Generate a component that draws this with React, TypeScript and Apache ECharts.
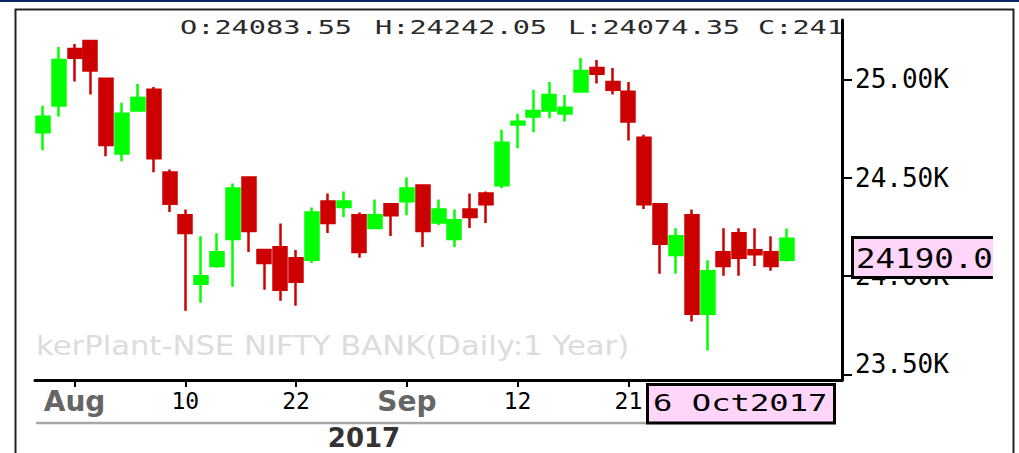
import React, { useEffect, useRef } from 'react';
import * as echarts from 'echarts';

const dates = [
  '2017-07-28', '2017-07-31', '2017-08-01', '2017-08-02', '2017-08-03', '2017-08-04',
  '2017-08-07', '2017-08-08', '2017-08-09', '2017-08-10', '2017-08-11', '2017-08-14',
  '2017-08-16', '2017-08-17', '2017-08-18', '2017-08-21', '2017-08-22', '2017-08-23',
  '2017-08-24', '2017-08-28', '2017-08-29', '2017-08-30', '2017-08-31', '2017-09-01',
  '2017-09-04', '2017-09-05', '2017-09-06', '2017-09-07', '2017-09-08', '2017-09-11',
  '2017-09-12', '2017-09-13', '2017-09-14', '2017-09-15', '2017-09-18', '2017-09-19',
  '2017-09-20', '2017-09-21', '2017-09-22', '2017-09-25', '2017-09-26', '2017-09-27',
  '2017-09-28', '2017-09-29', '2017-10-03', '2017-10-04', '2017-10-05', '2017-10-06',
  '2017-10-09', '2017-10-10', '2017-10-11',
];

const opens = [
  24731, 24867, 25154, 25195, 25003, 24624, 24842, 24947, 24527, 24309,
  23961, 24052, 24189, 24501, 24133, 24147, 24091, 24083, 24380, 24351,
  24309, 24245, 24365, 24381, 24461, 24272, 24189, 24339, 24420, 24462,
  24771, 24812, 24842, 24827, 24938, 25058, 24987, 24937, 24704, 24365,
  24108, 24309, 23809, 24122, 24218, 24132, 24122, 24083.55,
];
const highs = [
  24866, 25165, 25180, 25197, 25005, 24881, 24977, 24962, 24542, 24339,
  24203, 24218, 24471, 24503, 24135, 24268, 24133, 24349, 24420, 24430,
  24324, 24390, 24367, 24501, 24463, 24390, 24339, 24420, 24430, 24744,
  24825, 24947, 24987, 24921, 25109, 25099, 25058, 24987, 24719, 24367,
  24243, 24339, 24081, 24243, 24243, 24243, 24203, 24242.05,
];
const lows = [
  24640, 24812, 24989, 24923, 24609, 24584, 24840, 24528, 24326, 23824,
  23865, 24042, 23946, 24123, 23931, 23875, 23850, 24067, 24219, 24300,
  24093, 24243, 24204, 24310, 24148, 24260, 24148, 24245, 24270, 24447,
  24650, 24731, 24802, 24786, 24936, 24979, 24923, 24690, 24341, 24012,
  24012, 23769, 23622, 24002, 24002, 24052, 24027, 24074.35,
];
const closes = [
  24810, 25099, 25110, 25045, 24667, 24825, 24906, 24599, 24368, 24219,
  24000, 24122, 24446, 24229, 24067, 23931, 23971, 24324, 24270, 24380,
  24123, 24309, 24310, 24446, 24229, 24339, 24284, 24300, 24366, 24678,
  24785, 24840, 24921, 24856, 25043, 25029, 24948, 24786, 24366, 24164,
  24203, 23809, 24025, 24052, 24093, 24111, 24052, 24190,
];

const tickDates = ['2017-08-01', '2017-08-10', '2017-08-22', '2017-09-01', '2017-09-12', '2017-09-21'];
const tickTexts = ['Aug', '10', '22', 'Sep', '12', '21'];
const yTicks = [23500, 24000, 24500, 25000];

const headerFields = ['O:24083.55', 'H:24242.05', 'L:24074.35', 'C:241'];
const headerX = [180, 375, 568, 758];
const lastPrice = '24190.0';
const lastDate = '6 Oct2017';
const yearLabel = '2017';
const watermark = 'kerPlant-NSE NIFTY BANK(Daily:1 Year)';

const MONO = '"DejaVu Sans Mono", monospace';
const SANS = '"DejaVu Sans", sans-serif';
const PINK = '#ffd5fa';

export default function App() {
  const ref = useRef<HTMLDivElement>(null);

  useEffect(() => {
    if (!ref.current) return;
    const chart = echarts.init(ref.current, null, { renderer: 'svg' });

    const candleData = opens.map((o, i) => [o, closes[i], lows[i], highs[i]]);
    const isTick = (_i: number, v: string) => tickDates.indexOf(v) >= 0;

    const graphics: any[] = [
      { type: 'rect', z: 100, shape: { x: 0, y: 0, width: 1019, height: 2 }, style: { fill: '#0a2560' } },
      {
        type: 'rect', z: 100,
        shape: { x: 15.5, y: 9.5, width: 998, height: 470 },
        style: { fill: 'none', stroke: '#222', lineWidth: 2 },
      },
      ...headerFields.map((t, i) => ({
        type: 'text', z: 100, x: headerX[i], y: 27.5, scaleX: 1.43,
        style: {
          text: t, fill: '#2a2a2a', font: `20px ${MONO}`,
          textAlign: 'left', textVerticalAlign: 'middle', align: 'left', verticalAlign: 'middle',
        },
      })),
      {
        type: 'text', z: 1, x: 36, y: 346, scaleX: 1.18,
        style: {
          text: watermark, fill: '#dcdcdc', font: `26px ${SANS}`,
          textAlign: 'left', textVerticalAlign: 'middle', align: 'left', verticalAlign: 'middle',
        },
      },
      {
        type: 'line', z: 100,
        shape: { x1: 36, y1: 423, x2: 647, y2: 423 },
        style: { stroke: '#a8a8a8', lineWidth: 2.5 },
      },
      {
        type: 'text', z: 100, x: 364, y: 438,
        style: {
          text: yearLabel, fill: '#333', font: `bold 26px ${SANS}`,
          textAlign: 'center', textVerticalAlign: 'middle', align: 'center', verticalAlign: 'middle',
        },
      },
      {
        type: 'rect', z: 110,
        shape: { x: 647.5, y: 384.5, width: 187, height: 38.5 },
        style: { fill: PINK, stroke: '#000', lineWidth: 3 },
      },
      {
        type: 'text', z: 111, x: 653, y: 403, scaleX: 1.4,
        style: {
          text: lastDate, fill: '#000', font: `23px ${MONO}`,
          textAlign: 'left', textVerticalAlign: 'middle', align: 'left', verticalAlign: 'middle',
        },
      },
      {
        type: 'rect', z: 110,
        shape: { x: 852, y: 237, width: 141, height: 41 },
        style: { fill: PINK },
      },
      {
        type: 'text', z: 111, x: 856, y: 259.5, scaleX: 1.25,
        style: {
          text: lastPrice, fill: '#000', font: `26px ${MONO}`,
          textAlign: 'left', textVerticalAlign: 'middle', align: 'left', verticalAlign: 'middle',
        },
      },
      {
        type: 'rect', z: 112,
        shape: { x: 993, y: 234, width: 19, height: 47 },
        style: { fill: '#fff' },
      },
      {
        type: 'polyline', z: 113,
        shape: { points: [[993, 237.5], [852.5, 237.5], [852.5, 277.5], [993, 277.5]] },
        style: { stroke: '#000', lineWidth: 3, fill: 'none' },
      },
    ];

    chart.setOption({
      animation: false,
      backgroundColor: '#fff',
      grid: { left: 35, right: 177, top: 20, bottom: 73, containLabel: false, outerBoundsMode: 'none' },
      xAxis: {
        type: 'category',
        data: dates,
        boundaryGap: true,
        axisLine: { show: true, lineStyle: { color: '#000', width: 3 } },
        axisTick: {
          show: true, interval: isTick, alignWithLabel: true, length: 7,
          lineStyle: { color: '#000', width: 2 },
        },
        axisLabel: {
          interval: isTick,
          margin: 9,
          formatter: (v: string) => {
            const k = tickDates.indexOf(v);
            const t = k >= 0 ? tickTexts[k] : '';
            return /^[A-Za-z]/.test(t) ? `{m|${t}}` : `{d|${t}}`;
          },
          rich: {
            m: { fontFamily: SANS, fontWeight: 'bold', fontSize: 28, color: '#666', lineHeight: 24 },
            d: { fontFamily: MONO, fontSize: 23, color: '#000', lineHeight: 24 },
          },
        },
        splitLine: { show: false },
      },
      yAxis: {
        type: 'value',
        position: 'right',
        min: 23472,
        max: 25302,
        scale: true,
        axisLine: { show: true, lineStyle: { color: '#000', width: 3 } },
        axisTick: {
          show: true, length: 10, customValues: yTicks,
          lineStyle: { color: '#000', width: 2 },
        },
        axisLabel: {
          customValues: yTicks,
          margin: 13,
          color: '#000',
          fontFamily: MONO,
          fontSize: 26,
          formatter: (v: number) => {
            const t = (v / 1000).toFixed(2) + 'K';
            return v === yTicks[0] ? `{lo|${t}}` : `{n|${t}}`;
          },
          rich: {
            n: { fontFamily: MONO, fontSize: 26, color: '#000' },
            lo: { fontFamily: MONO, fontSize: 26, color: '#000', padding: [0, 0, 20, 0] },
          },
        },
        splitLine: { show: false },
      },
      graphic: graphics,
      series: [
        {
          type: 'candlestick',
          data: candleData,
          barWidth: 13.5,
          itemStyle: {
            color: '#00ff00',
            color0: '#cc0000',
            borderColor: '#00ff00',
            borderColor0: '#cc0000',
            borderColorDoji: '#00ff00',
            borderWidth: 2.5,
          },
        },
      ],
    });

    return () => chart.dispose();
  }, []);

  return (
    <div
      ref={ref}
      style={{ position: 'absolute', left: 0, top: 0, width: 1019, height: 453, background: '#fff' }}
    />
  );
}
